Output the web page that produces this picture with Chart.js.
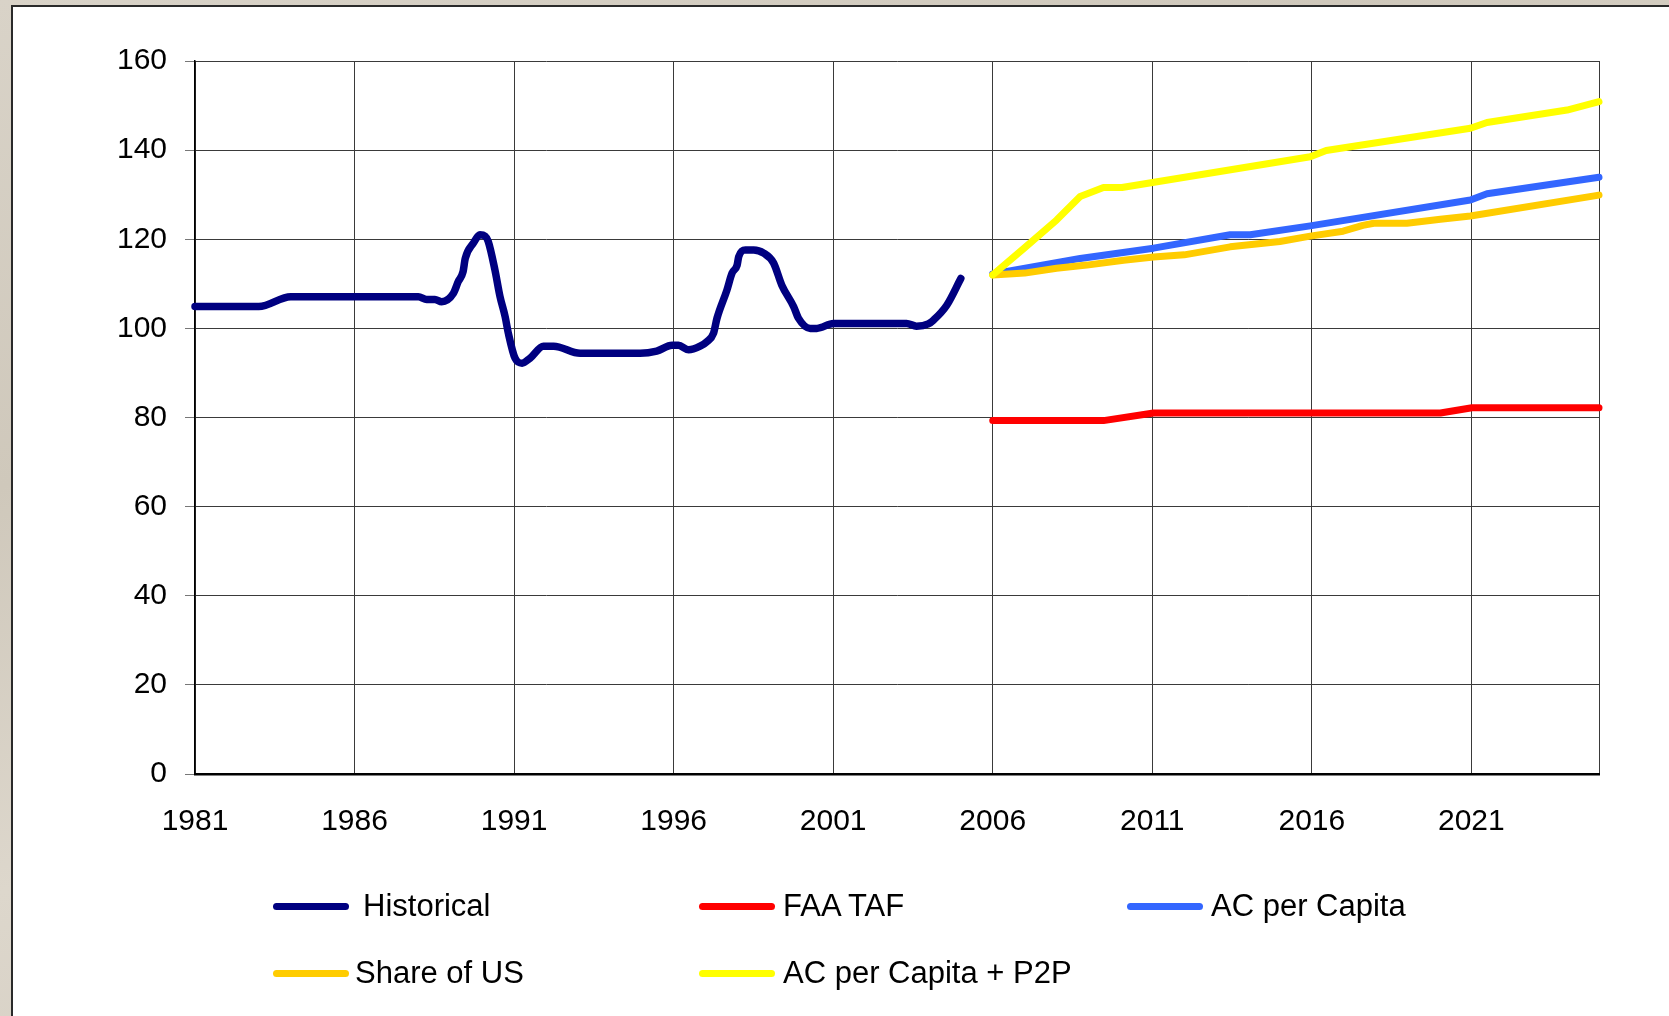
<!DOCTYPE html>
<html>
<head>
<meta charset="utf-8">
<script src="https://cdn.jsdelivr.net/npm/chart.js@4.4.1/dist/chart.umd.min.js"></script>
<style>
  html, body { margin: 0; padding: 0; width: 1669px; height: 1016px; overflow: hidden; }
  body { background: linear-gradient(160deg, #d9d3c8 0%, #cfc8bb 30%, #ddd7cc 55%, #d2cbbf 80%, #dad4c9 100%); position: relative; font-family: "Liberation Sans", Arial, sans-serif; }
  #panel { position: absolute; left: 11px; top: 5px; right: 0; bottom: 0; background: #fff; border-left: 2px solid #2a2a2a; border-top: 2px solid #2a2a2a; }
  #chart { position: absolute; left: 0; top: 0; }
  #legend { position: absolute; left: 0; top: 0; width: 1669px; height: 1016px; pointer-events: none; }
  .item { position: absolute; height: 40px; display: flex; align-items: center; font-size: 31px; color: #000; white-space: nowrap; }
  .swatch { width: 76px; height: 7px; border-radius: 4px; margin-right: 8px; }
</style>
</head>
<body>
<div id="panel"></div>
<canvas id="chart" width="1669" height="1016"></canvas>
<div id="legend"></div>
<script>
// ---- data ----
const xTickValues = [1981, 1986, 1991, 1996, 2001, 2006, 2011, 2016, 2021, 2025];
const xTickLabels = ['1981', '1986', '1991', '1996', '2001', '2006', '2011', '2016', '2021', ''];
const yTickValues = [0, 20, 40, 60, 80, 100, 120, 140, 160];

const seriesNames = ['Historical', 'FAA TAF', 'AC per Capita', 'Share of US', 'AC per Capita + P2P'];

const histYears = [1981, 1983, 1984, 1988, 1988.26, 1988.52, 1988.73, 1989.1, 1989.25, 1989.4, 1989.47, 1989.72, 1989.93, 1990.09, 1990.19, 1990.4, 1990.56, 1990.72, 1990.82, 1991.03, 1991.25, 1991.5, 1991.92, 1992.24, 1993.07, 1994.95, 1995.47, 1995.95, 1996.15, 1996.47, 1996.83, 1997.04, 1997.25, 1997.36, 1997.67, 1997.83, 1997.99, 1998.04, 1998.25, 1998.51, 1998.82, 1999.13, 1999.39, 1999.76, 1999.91, 2000.28, 2000.49, 2001.01, 2003.3, 2003.61, 2003.98, 2004.15, 2004.56, 2005];
const histValues = [104.9, 104.9, 107.1, 107.1, 106.5, 106.5, 106.0, 107.9, 110.5, 112.7, 115.7, 119.1, 121.0, 120.7, 119.5, 113.1, 107.1, 102.6, 98.9, 93.3, 92.2, 93.3, 96.0, 96.0, 94.4, 94.4, 94.9, 96.2, 96.2, 95.2, 96.0, 97.0, 98.9, 102.3, 108.6, 112.4, 114.2, 116.1, 117.6, 117.6, 116.9, 114.7, 109.7, 104.9, 102.3, 100.0, 100.0, 101.1, 101.1, 100.5, 101.0, 101.9, 105.2, 111.2];

const tafYears = [2006, 2009.47, 2011.04, 2020.03, 2021.02, 2025];
const tafValues = [79.3, 79.3, 81.0, 81.0, 82.2, 82.2];

const capitaYears = [2006, 2008.74, 2011.04, 2013.44, 2014.07, 2015.95, 2020.97, 2021.49, 2025];
const capitaValues = [112.2, 115.7, 118.0, 121.0, 121.0, 123.0, 128.8, 130.2, 133.9];

const shareYears = [2006, 2007, 2008, 2008.95, 2010.1, 2011.04, 2012, 2013.44, 2015, 2015.95, 2016.98, 2017.6, 2017.94, 2018.98, 2020.03, 2020.97, 2025];
const shareValues = [112.0, 112.4, 113.5, 114.2, 115.3, 116.0, 116.5, 118.3, 119.5, 120.7, 121.8, 123.1, 123.6, 123.6, 124.5, 125.2, 129.9];

const p2pYears = [2006, 2007, 2008, 2008.74, 2009.47, 2010.05, 2015.95, 2016.45, 2020.97, 2021.49, 2024, 2025];
const p2pValues = [112.0, 118.1, 124.3, 129.6, 131.6, 131.6, 138.5, 139.9, 144.9, 146.2, 149.0, 150.9];

const seriesColors = ['#000080', '#FF0000', '#3366FF', '#FFCC00', '#FFFF00'];

// ---- build chart ----
const pts = (xs, ys) => xs.map((x, i) => ({ x: x, y: ys[i] }));
const allSeries = [
  pts(histYears, histValues),
  pts(tafYears, tafValues),
  pts(capitaYears, capitaValues),
  pts(shareYears, shareValues),
  pts(p2pYears, p2pValues)
];
const drawOrder = [1, 2, 1, 0, -1];
const widths = [7.5, 7, 7, 7, 7];
const tensions = [0.4, 0, 0, 0, 0];

const FONT = "'Liberation Sans', Arial, sans-serif";

const chart = new Chart(document.getElementById('chart'), {
  type: 'line',
  data: {
    datasets: allSeries.map((d, i) => ({
      label: seriesNames[i],
      data: d,
      borderColor: seriesColors[i],
      backgroundColor: seriesColors[i],
      borderWidth: widths[i],
      borderCapStyle: 'round',
      borderJoinStyle: 'round',
      pointRadius: 0,
      tension: tensions[i],
      cubicInterpolationMode: i === 0 ? 'monotone' : 'default',
      order: drawOrder[i],
      clip: false,
      fill: false
    }))
  },
  options: {
    responsive: false,
    animation: false,
    events: [],
    layout: { padding: { top: 61, right: 70, left: 0, bottom: 0 } },
    plugins: { legend: { display: false }, tooltip: { enabled: false } },
    scales: {
      x: {
        type: 'linear',
        min: 1981,
        max: 2025,
        afterBuildTicks: s => { s.ticks = xTickValues.map(v => ({ value: v })); },
        afterFit: s => { s.height = 242; },
        ticks: {
          autoSkip: false,
          maxRotation: 0,
          minRotation: 0,
          padding: 30,
          color: '#000',
          font: { family: FONT, size: 30 },
          callback: (v) => { const i = xTickValues.indexOf(v); return i >= 0 ? xTickLabels[i] : ''; }
        },
        grid: { color: '#3a3a3a', lineWidth: 1, drawTicks: false },
        border: { color: '#000', width: 2.5 }
      },
      y: {
        type: 'linear',
        min: 0,
        max: 160,
        afterBuildTicks: s => { s.ticks = yTickValues.map(v => ({ value: v })); },
        afterFit: s => { s.width = 195; },
        ticks: {
          padding: 18,
          color: '#000',
          font: { family: FONT, size: 30 },
          callback: v => String(v)
        },
        grid: { color: '#3a3a3a', lineWidth: 1, drawTicks: true, tickLength: 10, tickColor: '#777' },
        border: { color: '#000', width: 1.5 }
      }
    }
  }
});

// ---- HTML legend generated from the chart's datasets ----
const legendCols = [273, 699, 1127];
const legendRows = [906, 973];
const legendGaps = [14, 8, 8, 6, 8];
const legendEl = document.getElementById('legend');
chart.data.datasets.forEach((ds, i) => {
  const col = i % 3, row = Math.floor(i / 3);
  const item = document.createElement('div');
  item.className = 'item';
  item.style.left = legendCols[col] + 'px';
  item.style.top = (legendRows[row] - 20) + 'px';
  const sw = document.createElement('div');
  sw.className = 'swatch';
  sw.style.background = ds.borderColor;
  sw.style.marginRight = legendGaps[i] + 'px';
  const tx = document.createElement('span');
  tx.textContent = ds.label;
  item.appendChild(sw);
  item.appendChild(tx);
  legendEl.appendChild(item);
});
</script>
</body>
</html>
